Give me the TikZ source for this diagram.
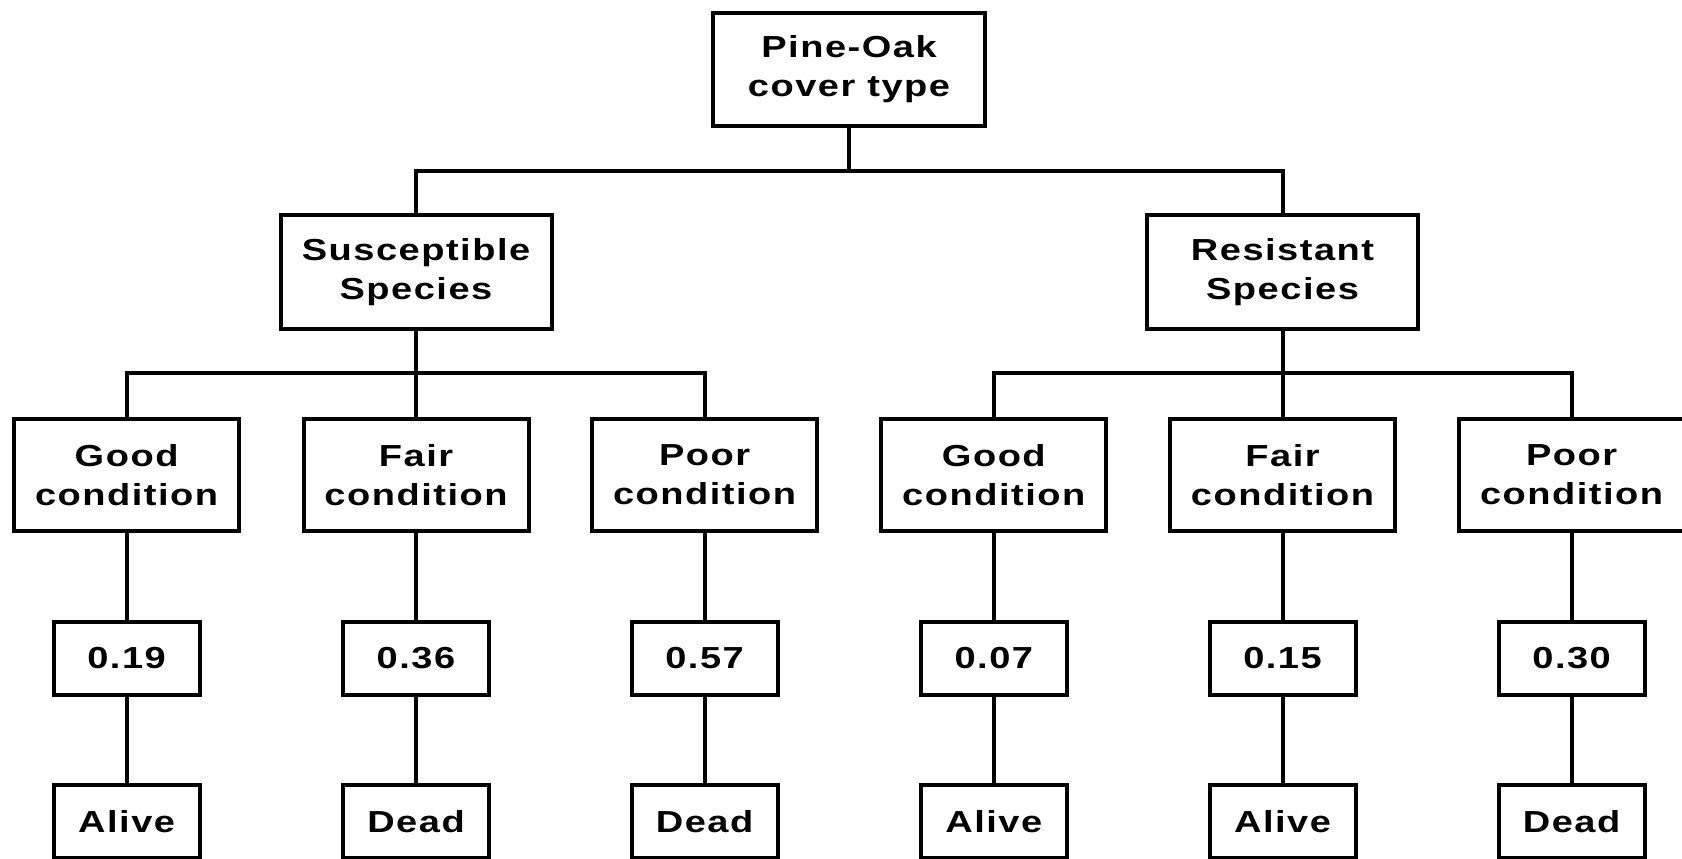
\documentclass[tikz,border=0pt]{standalone}
\usepackage{fontspec}
\newfontfamily\lab[FakeStretch=1.25,LetterSpace=5]{Liberation Sans}
\begin{document}
\begin{tikzpicture}[x=0.5pt,y=-0.5pt,
  box/.style={draw,line width=2pt,inner sep=0pt,align=center,
    font=\lab\bfseries\fontsize{15.2pt}{19.5pt}\selectfont},
  topbox/.style={box,minimum width=136pt,minimum height=56.5pt},
  spbox/.style={box,minimum width=135.5pt,minimum height=57pt},
  condbox/.style={box,minimum width=112.5pt,minimum height=56pt},
  valbox/.style={box,minimum width=73pt,minimum height=36.5pt},
  link/.style={line width=2pt}]
\clip (0,0) rectangle (1682,858);
\fill[white] (0,0) rectangle (1682,858);
% root
\node[topbox] (root) at (849,69.5) {Pine-Oak\\cover type};
% species
\node[spbox] (sus) at (416,272) {Susceptible\\Species};
\node[spbox] (res) at (1282.5,272) {Resistant\\Species};
% conditions
\node[condbox] (c1) at (126.6,475) {Good\\condition};
\node[condbox] (c2) at (416,475) {Fair\\condition};
\node[condbox] (c3) at (704.6,475) {Poor\\condition};
\node[condbox] (c4) at (993.8,475) {Good\\condition};
\node[condbox] (c5) at (1282.5,475) {Fair\\condition};
\node[condbox] (c6) at (1571.6,475) {Poor\\condition};
% values
\node[valbox] (v1) at (126.6,658) {0.19};
\node[valbox] (v2) at (416,658) {0.36};
\node[valbox] (v3) at (704.6,658) {0.57};
\node[valbox] (v4) at (993.8,658) {0.07};
\node[valbox] (v5) at (1282.5,658) {0.15};
\node[valbox] (v6) at (1571.6,658) {0.30};
% outcomes
\node[valbox] (o1) at (126.6,821.5) {Alive};
\node[valbox] (o2) at (416,821.5) {Dead};
\node[valbox] (o3) at (704.6,821.5) {Dead};
\node[valbox] (o4) at (993.8,821.5) {Alive};
\node[valbox] (o5) at (1282.5,821.5) {Alive};
\node[valbox] (o6) at (1571.6,821.5) {Dead};
% junctions
\coordinate (j0) at (849,170.7);
\coordinate (j1) at (416,373);
\coordinate (j2) at (1282.5,373);
% connectors
\draw[link] (root.south) -- (j0);
\draw[link] (sus.north) |- (j0) -| (res.north);
\draw[link] (sus.south) -- (c2.north);
\draw[link] (c1.north) |- (j1) -| (c3.north);
\draw[link] (res.south) -- (c5.north);
\draw[link] (c4.north) |- (j2) -| (c6.north);
\foreach \i in {1,...,6}{
  \draw[link] (c\i.south) -- (v\i.north);
  \draw[link] (v\i.south) -- (o\i.north);
}
\end{tikzpicture}
\end{document}
